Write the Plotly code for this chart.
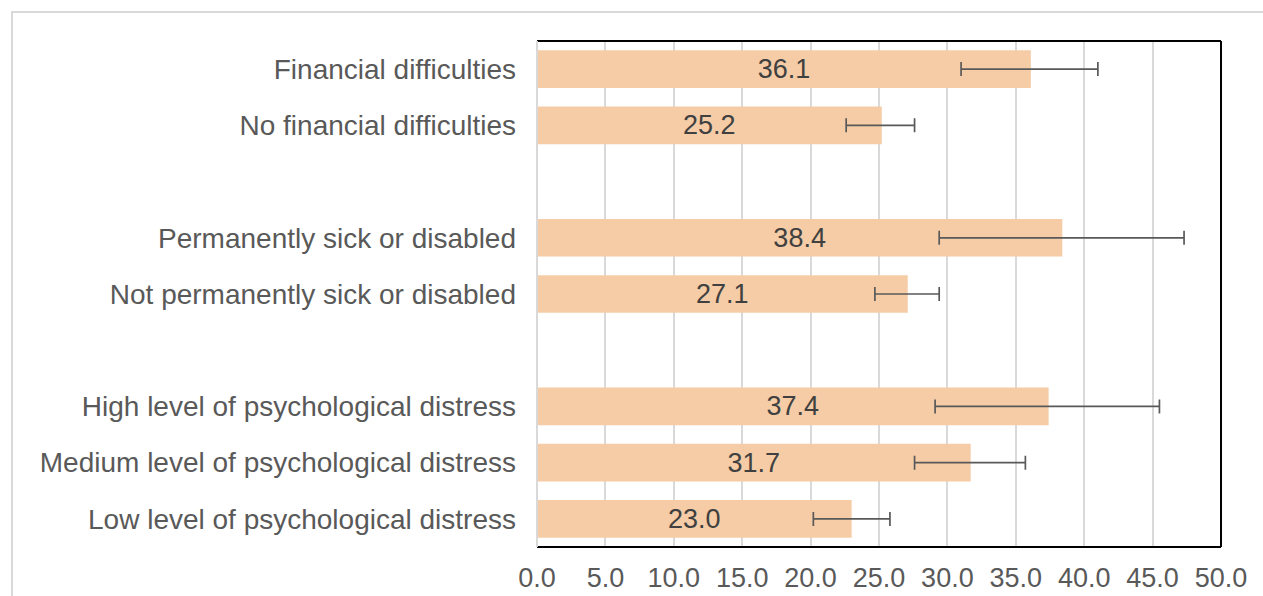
import plotly.graph_objects as go

categories = [
    "Financial difficulties",
    "No financial difficulties",
    " ",
    "Permanently sick or disabled",
    "Not permanently sick or disabled",
    "  ",
    "High level of psychological distress",
    "Medium level of psychological distress",
    "Low level of psychological distress",
]
values = [36.1, 25.2, None, 38.4, 27.1, None, 37.4, 31.7, 23.0]
ci_low = [31.0, 22.6, None, 29.4, 24.7, None, 29.1, 27.6, 20.2]
ci_high = [41.0, 27.6, None, 47.3, 29.4, None, 45.5, 35.7, 25.8]
x_ticks = [0, 5, 10, 15, 20, 25, 30, 35, 40, 45, 50]

err_plus = [None if v is None else round(h - v, 2) for v, h in zip(values, ci_high)]
err_minus = [None if v is None else round(v - l, 2) for v, l in zip(values, ci_low)]
labels = ["" if v is None else f"{v:.1f}" for v in values]

FONT = "Liberation Sans, Arial, sans-serif"
FS = 27

fig = go.Figure(
    go.Bar(
        x=values,
        y=categories,
        orientation="h",
        marker=dict(color="#F5CCA6", line=dict(width=0)),
        text=labels,
        textposition="inside",
        insidetextanchor="middle",
        textfont=dict(family=FONT, size=FS, color="#404040"),
        error_x=dict(
            type="data",
            symmetric=False,
            array=err_plus,
            arrayminus=err_minus,
            color="#595959",
            thickness=1.7,
            width=7,
        ),
        cliponaxis=False,
        hoverinfo="skip",
    )
)

W, H = 1263, 596
L, R, T, B = 537, 42, 41, 49
pw, ph = W - L - R, H - T - B

def px_to_paper_x(p):
    return (p - L) / pw

def px_to_paper_y(p):
    return (H - B - p) / ph

shapes = [
    # outer light frame
    dict(type="rect", xref="paper", yref="paper",
         x0=px_to_paper_x(12), x1=px_to_paper_x(1300),
         y0=px_to_paper_y(640), y1=px_to_paper_y(12),
         line=dict(color="#D9D9D9", width=2), fillcolor="rgba(0,0,0,0)", layer="below"),
    # plot frame: top, right, bottom black; left gray
    dict(type="line", xref="paper", yref="paper", x0=0, x1=1, y0=1, y1=1,
         line=dict(color="#000000", width=2)),
    dict(type="line", xref="paper", yref="paper", x0=1, x1=1, y0=0, y1=1,
         line=dict(color="#000000", width=2)),
    dict(type="line", xref="paper", yref="paper", x0=0, x1=1, y0=0, y1=0,
         line=dict(color="#000000", width=2)),
    dict(type="line", xref="paper", yref="paper", x0=0, x1=0, y0=0, y1=1,
         line=dict(color="#D9D9D9", width=2)),
]

fig.update_layout(
    width=W,
    height=H,
    margin=dict(l=L, r=R, t=T, b=B, pad=0, autoexpand=False),
    paper_bgcolor="white",
    plot_bgcolor="white",
    showlegend=False,
    bargap=0.33,
    shapes=shapes,
    font=dict(family=FONT, size=FS, color="#595959"),
    xaxis=dict(
        range=[0, 50],
        tickvals=x_ticks,
        ticktext=[f"{t:.1f}" for t in x_ticks],
        showgrid=True,
        gridcolor="#D9D9D9",
        gridwidth=1.5,
        zeroline=False,
        showline=False,
        ticks="",
        ticklabelstandoff=12,
        automargin=False,
        tickfont=dict(family=FONT, size=FS, color="#595959"),
        fixedrange=True,
    ),
    yaxis=dict(
        categoryorder="array",
        categoryarray=categories,
        autorange="reversed",
        showgrid=False,
        zeroline=False,
        showline=False,
        ticks="",
        ticklabelstandoff=20,
        automargin=False,
        tickfont=dict(family=FONT, size=28, color="#595959"),
        fixedrange=True,
    ),
)

fig.write_html(
    "out.html",
    config={"displayModeBar": False},
    post_script="document.body.style.margin='0';document.body.style.overflow='hidden';",
)
